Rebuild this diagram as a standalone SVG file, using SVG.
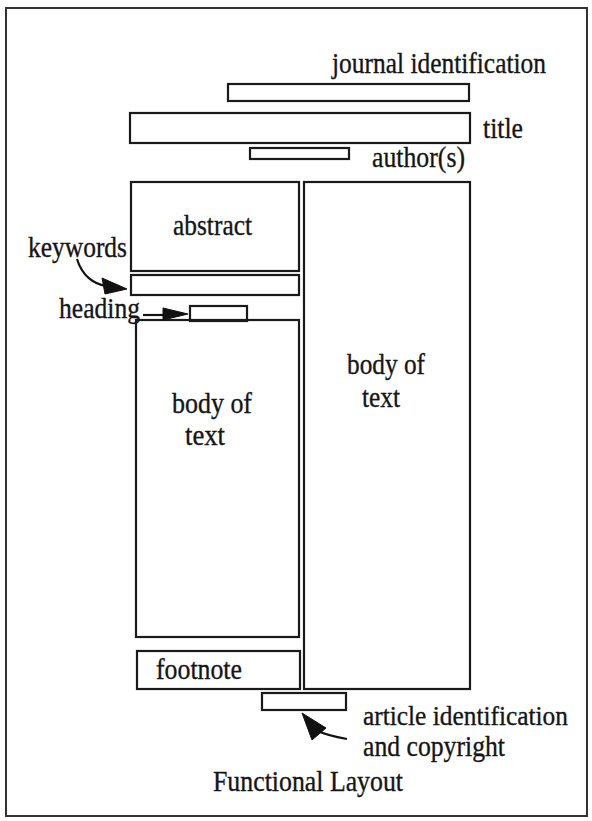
<svg xmlns="http://www.w3.org/2000/svg" width="592" height="821" viewBox="0 0 592 821">
<style>
.b{fill:none;stroke:#1a1a1a;stroke-width:2.2}
.t{font-family:"Liberation Serif","Times New Roman",serif;font-size:30px;fill:#151515;stroke:#151515;stroke-width:0.35}
.s{font-size:28px}
.c{fill:none;stroke:#111;stroke-width:2.2}
.h{fill:#111;stroke:#111;stroke-width:1;stroke-linejoin:round}
</style>
<rect x="0" y="0" width="592" height="821" fill="#fff"/>
<rect x="6" y="8" width="581" height="808" fill="none" stroke="#333" stroke-width="2"/>
<g id="journal"><rect class="b" x="228" y="84" width="241" height="17"/><text class="t" x="332" y="73" textLength="214" lengthAdjust="spacingAndGlyphs">journal identification</text></g>
<g id="title"><rect class="b" x="130" y="113" width="340" height="30"/><text class="t" x="483" y="138" textLength="40" lengthAdjust="spacingAndGlyphs">title</text></g>
<g id="authors"><rect class="b" x="250" y="148" width="99" height="11"/><text class="t" x="372" y="167" textLength="93" lengthAdjust="spacingAndGlyphs">author(s)</text></g>
<g id="abstract"><rect class="b" x="131" y="182" width="168" height="89"/><text class="t" x="173" y="235" textLength="79" lengthAdjust="spacingAndGlyphs">abstract</text></g>
<g id="keywords"><rect class="b" x="131" y="275" width="168" height="20"/><text class="t" x="28" y="257" textLength="99" lengthAdjust="spacingAndGlyphs">keywords</text></g>
<g id="heading"><rect class="b" x="190" y="306" width="57" height="15"/><text class="t" x="59" y="318" textLength="81" lengthAdjust="spacingAndGlyphs">heading</text></g>
<g id="body-left"><rect class="b" x="136" y="320" width="163" height="317"/><text class="t" x="172" y="413" textLength="80" lengthAdjust="spacingAndGlyphs">body of</text><text class="t" x="185" y="445" textLength="40" lengthAdjust="spacingAndGlyphs">text</text></g>
<g id="footnote"><rect class="b" x="137" y="651" width="163" height="38"/><text class="t" x="156" y="679" textLength="86" lengthAdjust="spacingAndGlyphs">footnote</text></g>
<g id="body-right"><rect class="b" x="304" y="182" width="166" height="507"/><text class="t" x="347" y="374" textLength="78" lengthAdjust="spacingAndGlyphs">body of</text><text class="t" x="362" y="407" textLength="38" lengthAdjust="spacingAndGlyphs">text</text></g>
<g id="article"><rect class="b" x="262" y="693" width="84" height="17"/><text class="t s" x="363" y="725" textLength="205" lengthAdjust="spacingAndGlyphs">article identification</text><text class="t" x="363" y="756" textLength="142" lengthAdjust="spacingAndGlyphs">and copyright</text></g>
<g id="caption"><text class="t" x="213" y="791" textLength="190" lengthAdjust="spacingAndGlyphs">Functional Layout</text></g>
<g id="connectors">
<path class="c" d="M77,259 C82,276 94,284 106,286"/>
<polygon class="h" points="127,289 102,278 105,294"/>
<path class="c" d="M143,315 L166,315"/>
<polygon class="h" points="188,314 163,308 163,320"/>
<path class="c" d="M347,739 C336,737 326,735 318,731"/>
<polygon class="h" points="302,713 312,740 326,728"/>
</g>
</svg>
